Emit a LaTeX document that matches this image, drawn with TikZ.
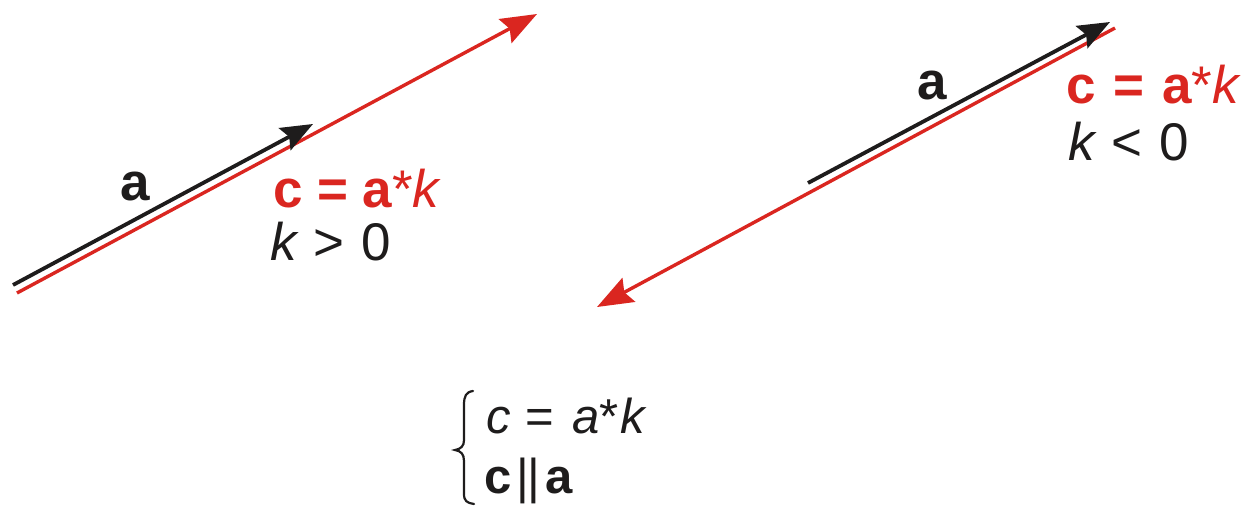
\documentclass[tikz,border=0pt]{standalone}
\usepackage{fontspec}
\setmainfont{Liberation Sans}
\usetikzlibrary{arrows.meta}
\definecolor{vred}{RGB}{218,38,32}
\definecolor{vblack}{RGB}{30,28,28}
\tikzset{
  vecred/.style={draw=vred, line width=3.4pt, -{Stealth[length=36pt,width=27pt,inset=5pt]}},
  vecblack/.style={draw=vblack, line width=3.8pt, -{Stealth[length=32pt,width=25pt,inset=5pt]}},
  lbl/.style={anchor=base west, inner sep=0pt, outer sep=0pt, font=\fontsize{53}{60}\selectfont},
  sys/.style={anchor=base west, inner sep=0pt, outer sep=0pt, text=vblack, font=\fontsize{49}{56}\selectfont},
}
\begin{document}
\begin{tikzpicture}[x=1pt,y=-1pt]
\useasboundingbox (0,0) rectangle (1249,506);
% left pair
\coordinate (lr0) at (17,293);
\coordinate (lr1) at (537,14);
\coordinate (lb0) at (13,285);
\coordinate (lb1) at (313,124);
\draw[vecred] (lr0) -- (lr1);
\draw[vecblack] (lb0) -- (lb1);
\node[lbl, text=vblack] (la) at (120,200) {\bfseries a};
\node[lbl, text=vred] (lc) at (273,207) {\bfseries c = a\mdseries*\itshape k};
\node[lbl, text=vblack] (lk) at (270,260) {\itshape k\upshape\hspace{17pt}>\hspace{17pt}0};
% right pair
\coordinate (rr0) at (1115,28);
\coordinate (rr1) at (597,307);
\coordinate (rb0) at (808,183);
\coordinate (rb1) at (1110,22);
\draw[vecred] (rr0) -- (rr1);
\draw[vecblack] (rb0) -- (rb1);
\node[lbl, text=vblack] (ra) at (917,99) {\bfseries a};
\node[lbl, text=vred] (rc) at (1066,103) {\bfseries c\hspace{18pt}=\hspace{18pt}a\mdseries*\itshape k};
\node[lbl, text=vblack] (rk) at (1068,160) {\itshape k\upshape\hspace{17pt}<\hspace{17pt}0};
% bottom system
\node[sys] (s1) at (486,433) {\itshape c\kern15pt\upshape=\kern18pt\itshape a\upshape*\kern2pt\itshape k};
\node[sys] (s2) at (484,493) {\bfseries c\mdseries\kern5pt|\kern-1.5pt|\kern5pt\bfseries a};
\draw[vblack, line width=2.2pt, line cap=round] (473,391) .. controls (466,392) and (464,396) .. (464,405)
  -- (464,440) .. controls (464,446) and (461,449) .. (455,450)
  .. controls (461,451) and (464,454) .. (464,461)
  -- (464,494) .. controls (464,501) and (467,503) .. (474,504);
\end{tikzpicture}
\end{document}
